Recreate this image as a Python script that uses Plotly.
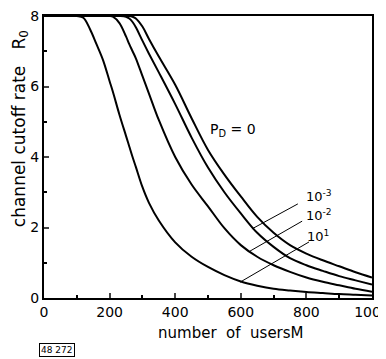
import plotly.graph_objects as go

# number of users M
users = [0, 100, 120, 140, 160, 180, 200, 210, 230, 250, 260, 270, 280, 300, 320, 350,
         400, 450, 500, 550, 600, 650, 700, 750, 800, 850, 900, 950, 1000]

# channel cutoff rate R0 for each P_D
r_pd_1e1 = [8, 8, 7.95, 7.63, 7.2, 6.75, 6.15, 5.85, 5.2, 4.6, 4.3, 4.0, 3.72, 3.15, 2.7, 2.2,
            1.58, 1.17, 0.88, 0.65, 0.47, 0.35, 0.26, 0.21, 0.17, 0.14, 0.11, 0.09, 0.07]
r_pd_1e2 = [8, 8, 8, 8, 8, 8, 8, 7.98, 7.8, 7.42, 7.2, 7.0, 6.8, 6.3, 5.8, 5.05,
            4.0, 3.22, 2.6, 1.98, 1.5, 1.17, 0.93, 0.74, 0.58, 0.46, 0.36, 0.26, 0.18]
r_pd_1e3 = [8, 8, 8, 8, 8, 8, 8, 8, 8, 7.98, 7.93, 7.83, 7.68, 7.3, 6.93, 6.4,
            5.5, 4.55, 3.7, 3.0, 2.4, 1.85, 1.45, 1.13, 0.93, 0.77, 0.62, 0.5, 0.38]
r_pd_0 = [8, 8, 8, 8, 8, 8, 8, 8, 8, 8, 8, 7.98, 7.93, 7.7, 7.35, 6.85,
          6.05, 5.1, 4.2, 3.5, 2.88, 2.3, 1.85, 1.5, 1.26, 1.07, 0.9, 0.73, 0.58]

series = [r_pd_1e1, r_pd_1e2, r_pd_1e3, r_pd_0]

x_ticks = [0, 200, 400, 600, 800, 1000]
y_ticks = [0, 2, 4, 6, 8]

# leader lines (label end -> curve end)
leaders = [
    ((774, 2.67), (634, 1.96)),
    ((787, 2.18), (628, 1.33)),
    ((808, 1.59), (598, 0.45)),
]
labels = [("10<sup>-3</sup>", 838, 2.9), ("10<sup>-2</sup>", 838, 2.36), ("10<sup>1</sup>", 836, 1.77)]

FONT = "DejaVu Sans"
fig = go.Figure()
for ys in series:
    fig.add_trace(go.Scatter(x=users, y=ys, mode="lines",
                             line=dict(color="black", width=2, shape="spline", smoothing=1.0),
                             showlegend=False, hoverinfo="skip", cliponaxis=False))
for (p0, p1) in leaders:
    fig.add_trace(go.Scatter(x=[p0[0], p1[0]], y=[p0[1], p1[1]], mode="lines",
                             line=dict(color="black", width=1), showlegend=False, hoverinfo="skip"))

for txt, x, y in labels:
    fig.add_annotation(x=x, y=y, text=txt, showarrow=False, font=dict(family=FONT, size=13, color="black"))
fig.add_annotation(x=575, y=4.78, text="P<sub>D</sub> = 0", showarrow=False,
                   font=dict(family=FONT, size=14, color="black"))
fig.add_annotation(x=0.57, y=-0.124, xref="paper", yref="paper", xanchor="center", yanchor="middle",
                   text="number  of  usersM", showarrow=False, font=dict(family=FONT, size=15, color="black"))
fig.add_annotation(x=-0.072, y=0.6, xref="paper", yref="paper", xanchor="center", yanchor="middle",
                   textangle=-90, text="channel cutoff rate   R<sub>0</sub>", showarrow=False,
                   font=dict(family=FONT, size=17, color="black"))
fig.add_annotation(x=-0.015, y=-0.185, xref="paper", yref="paper", xanchor="left", yanchor="middle",
                   text="48 272", showarrow=False, font=dict(family=FONT, size=9, color="black"),
                   bordercolor="black", borderwidth=1, borderpad=1)

# page body adds an 8px offset; the figure is sized to fill the rest of the window
fig.update_layout(
    width=378, height=351,
    margin=dict(l=36, r=14, t=8, b=61, autoexpand=False),
    paper_bgcolor="white", plot_bgcolor="white",
    font=dict(family=FONT, size=14, color="black"),
    xaxis=dict(range=[0, 1000], tickvals=x_ticks, ticks="inside", ticklen=5, tickwidth=1.5,
               showline=True, linecolor="black", linewidth=2, mirror=True, showgrid=False, zeroline=False,
               automargin=False, ticklabeloverflow="allow",
               minor=dict(ticks="inside", dtick=100, ticklen=3, tickwidth=1.5, tickcolor="black"),
               tickfont=dict(family=FONT, size=14)),
    yaxis=dict(range=[0, 8], tickvals=y_ticks, ticks="inside", ticklen=5, tickwidth=1.5,
               showline=True, linecolor="black", linewidth=2, mirror=True, showgrid=False, zeroline=False,
               automargin=False, ticklabeloverflow="allow",
               minor=dict(ticks="inside", dtick=1, ticklen=3, tickwidth=1.5, tickcolor="black"),
               tickfont=dict(family=FONT, size=14)),
)
fig.write_html("out.html")
